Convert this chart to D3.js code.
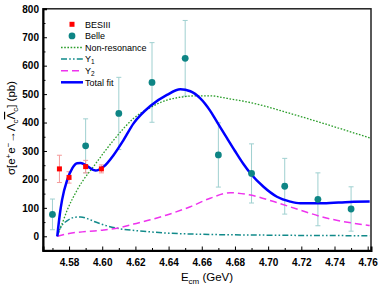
<!DOCTYPE html>
<html><head><meta charset="utf-8">
<script src="https://cdn.jsdelivr.net/npm/d3@7"></script>
<style>body{margin:0;background:#fff}svg{display:block;font-family:Arial,"Liberation Sans",sans-serif}</style>
</head><body><svg id="c" width="382" height="289"></svg>
<script>
// ---- data ----
const belleE = [4.57,4.59,4.61,4.63,4.65,4.67,4.69,4.71,4.73,4.75];
const belleV = [77,318,432,541,626,286,221,176,130,96];
const belleErr = [54,95,127,140,133,113,104,98,93,78];

const besE = [4.5742,4.58,4.59,4.5995];
const besV = [237,207,245,237];
const besErr = [48,20,22,14];

const fitE = [4.5729,4.5745,4.5758,4.5789,4.582,4.5849,4.587,4.5909,4.5959,4.6009,4.6069,4.6129,4.6189,4.629,4.639,4.6471,4.6531,4.6591,4.665,4.6691,4.6752,4.680,4.685,4.6894,4.6972,4.7053,4.7133,4.7193,4.7333,4.7494,4.7612];
const fitV = [0,80,128,198,240,257,258,247,231,245,286,339,397,458,497,517,510,485,442,403,345,300,255,221,174,139,122,116,116,121,122];

const nrE = [4.5729,4.5742,4.5755,4.5789,4.5849,4.596,4.607,4.619,4.629,4.639,4.647,4.657,4.665,4.6752,4.691,4.7133,4.7333,4.7612];
const nrV = [0,22,40,92,163,255,339,415,453,479,489,494,494,485,468,432,397,346];

const y1E = [4.5729,4.5745,4.5762,4.579,4.5835,4.587,4.591,4.596,4.602,4.609,4.62,4.63,4.64,4.66,4.70,4.7612];
const y1V = [0,25,42,55,67,68,62,50,38,28,20,15,11,7,4,2];

const y2E = [4.5729,4.58,4.5909,4.6009,4.612,4.6189,4.629,4.639,4.649,4.6531,4.6651,4.6772,4.6894,4.7034,4.7193,4.7333,4.7612];
const y2V = [0,10,17,22,32,43,58,75,95,104,134,153,145,122,92,67,38];

const xTicks = [4.58,4.60,4.62,4.64,4.66,4.68,4.70,4.72,4.74,4.76];
const xMinor = [4.57,4.59,4.61,4.63,4.65,4.67,4.69,4.71,4.73,4.75];
const yTicks = [0,100,200,300,400,500,600,700,800];
const yMinor = [-50,50,150,250,350,450,550,650,750];

const legendItems = ["BESIII","Belle","Non-resonance","Y1","Y2","Total fit"];

// ---- drawing ----
const svg = d3.select("#c");
const L=43,R=371,T=8.8,B=250.5;
const x = d3.scaleLinear().domain([4.5643,4.7620]).range([L,R]);
const y = d3.scaleLinear().domain([-50,800]).range([B,T]);

svg.append("rect").attr("width",382).attr("height",289).attr("fill","#fff");
svg.append("defs").append("clipPath").attr("id","clip").append("rect")
  .attr("x",L).attr("y",T).attr("width",R-L).attr("height",B-T);

// frame
svg.append("rect").attr("x",L).attr("y",T).attr("width",R-L).attr("height",B-T)
  .attr("fill","none").attr("stroke","#222").attr("stroke-width",1.5);

// axes with inward ticks
const xAx = svg.append("g").attr("transform",`translate(0,${B})`)
  .call(d3.axisBottom(x).tickValues(xTicks).tickSize(-4).tickPadding(8).tickFormat(d3.format(".2f")));
svg.append("g").attr("transform",`translate(0,${B})`)
  .call(d3.axisBottom(x).tickValues(xMinor).tickSize(-2.5).tickFormat(""))
  .select(".domain").remove();
const yAx = svg.append("g").attr("transform",`translate(${L},0)`)
  .call(d3.axisLeft(y).tickValues(yTicks).tickSize(-4).tickPadding(4));
svg.append("g").attr("transform",`translate(${L},0)`)
  .call(d3.axisLeft(y).tickValues(yMinor).tickSize(-2.5).tickFormat(""))
  .select(".domain").remove();
svg.selectAll(".domain").attr("stroke","#000").attr("stroke-width",2);
svg.selectAll(".tick line").attr("stroke","#000").attr("stroke-width",1);
svg.selectAll(".tick text").attr("font-size",10).attr("font-weight","bold")
  .attr("font-family","Arial, 'Liberation Sans', sans-serif").attr("fill","#000");

const plot = svg.append("g").attr("clip-path","url(#clip)");

// error bars
function errBars(E,V,Er,color){
  const g = plot.append("g").attr("stroke",color).attr("stroke-width",1);
  E.forEach((e,i)=>{
    const xc=x(e), y0=y(V[i]-Er[i]), y1=y(V[i]+Er[i]);
    g.append("line").attr("x1",xc).attr("x2",xc).attr("y1",y0).attr("y2",y1);
    g.append("line").attr("x1",xc-2.5).attr("x2",xc+2.5).attr("y1",y0).attr("y2",y0);
    g.append("line").attr("x1",xc-2.5).attr("x2",xc+2.5).attr("y1",y1).attr("y2",y1);
  });
}
errBars(belleE,belleV,belleErr,"#9fd0d0");
errBars(besE,besV,besErr,"#f49a9a");

// curves
const line = d3.line().x(d=>x(d[0])).y(d=>y(d[1])).curve(d3.curveMonotoneX);
function curve(E,V,color,w,dash){
  plot.append("path").datum(E.map((e,i)=>[e,V[i]])).attr("d",line)
    .attr("fill","none").attr("stroke",color).attr("stroke-width",w)
    .attr("stroke-dasharray",dash);
}
const C = {nr:"#2a9d2a", y1:"#118a8a", y2:"#ee33ee", fit:"#0000ff", bes:"#ff0000", belle:"#0e8585"};
const D = {nr:"1.6,1.6", y1:"6,2.2,1.6,2.2,1.6,2.2", y2:"7,4", fit:null};
curve(nrE,nrV,C.nr,1.3,D.nr);
curve(y1E,y1V,C.y1,1.5,D.y1);
curve(y2E,y2V,C.y2,1.5,D.y2);
curve(fitE,fitV,C.fit,2.5,D.fit);

// points
plot.selectAll(".bes").data(besE).enter().append("rect")
  .attr("x",(d)=>x(d)-2.5).attr("y",(d,i)=>y(besV[i])-2.5).attr("width",5).attr("height",5).attr("fill",C.bes);
plot.selectAll(".belle").data(belleE).enter().append("circle")
  .attr("cx",d=>x(d)).attr("cy",(d,i)=>y(belleV[i])).attr("r",3.4).attr("fill",C.belle);

// legend
const lg = svg.append("g").attr("font-size",9).attr("fill","#000");
const ly0=24.3, ldy=11.6, lx0=61, lx1=83, ltx=85;
legendItems.forEach((name,i)=>{
  const yy = ly0+i*ldy;
  if(i===0) lg.append("rect").attr("x",72-2.5).attr("y",yy-2.5).attr("width",5).attr("height",5).attr("fill",C.bes);
  else if(i===1) lg.append("circle").attr("cx",72).attr("cy",yy).attr("r",3.4).attr("fill",C.belle);
  else {
    const key=["nr","y1","y2","fit"][i-2];
    lg.append("line").attr("x1",lx0).attr("x2",lx1).attr("y1",yy).attr("y2",yy)
      .attr("stroke",C[key]).attr("stroke-width",key==="fit"?2.5:(key==="nr"?1.3:1.5))
      .attr("stroke-dasharray",D[key]);
  }
  const t = lg.append("text").attr("x",ltx).attr("y",yy+3.3);
  if(name==="Y1"||name==="Y2"){
    t.append("tspan").text("Y");
    t.append("tspan").attr("font-size",6.5).attr("dy",2).text(name[1]);
  } else t.text(name);
});

// y-axis label
const yl = svg.append("text").attr("transform","translate(15,128) rotate(-90)")
  .attr("text-anchor","middle").attr("font-size",11.5).attr("fill","#000");
yl.append("tspan").text("σ[e");
yl.append("tspan").attr("font-size",8).attr("dy",-4).text("+");
yl.append("tspan").attr("dy",4).text("e");
yl.append("tspan").attr("font-size",8).attr("dy",-4).text("−");
yl.append("tspan").attr("dy",4).text("→Λ");
yl.append("tspan").attr("font-size",8).attr("dy",3).text("c");
yl.append("tspan").attr("dy",-3).attr("text-decoration","overline").text("Λ");
yl.append("tspan").attr("font-size",8).attr("dy",3).text("c");
yl.append("tspan").attr("dy",-3).text("] (pb)");

// x-axis label
const xl = svg.append("text").attr("x",207).attr("y",281).attr("text-anchor","middle")
  .attr("font-size",11.5).attr("fill","#000");
xl.append("tspan").text("E");
xl.append("tspan").attr("font-size",8).attr("dy",3).text("cm");
xl.append("tspan").attr("dy",-3).text(" (GeV)");
</script></body></html>
